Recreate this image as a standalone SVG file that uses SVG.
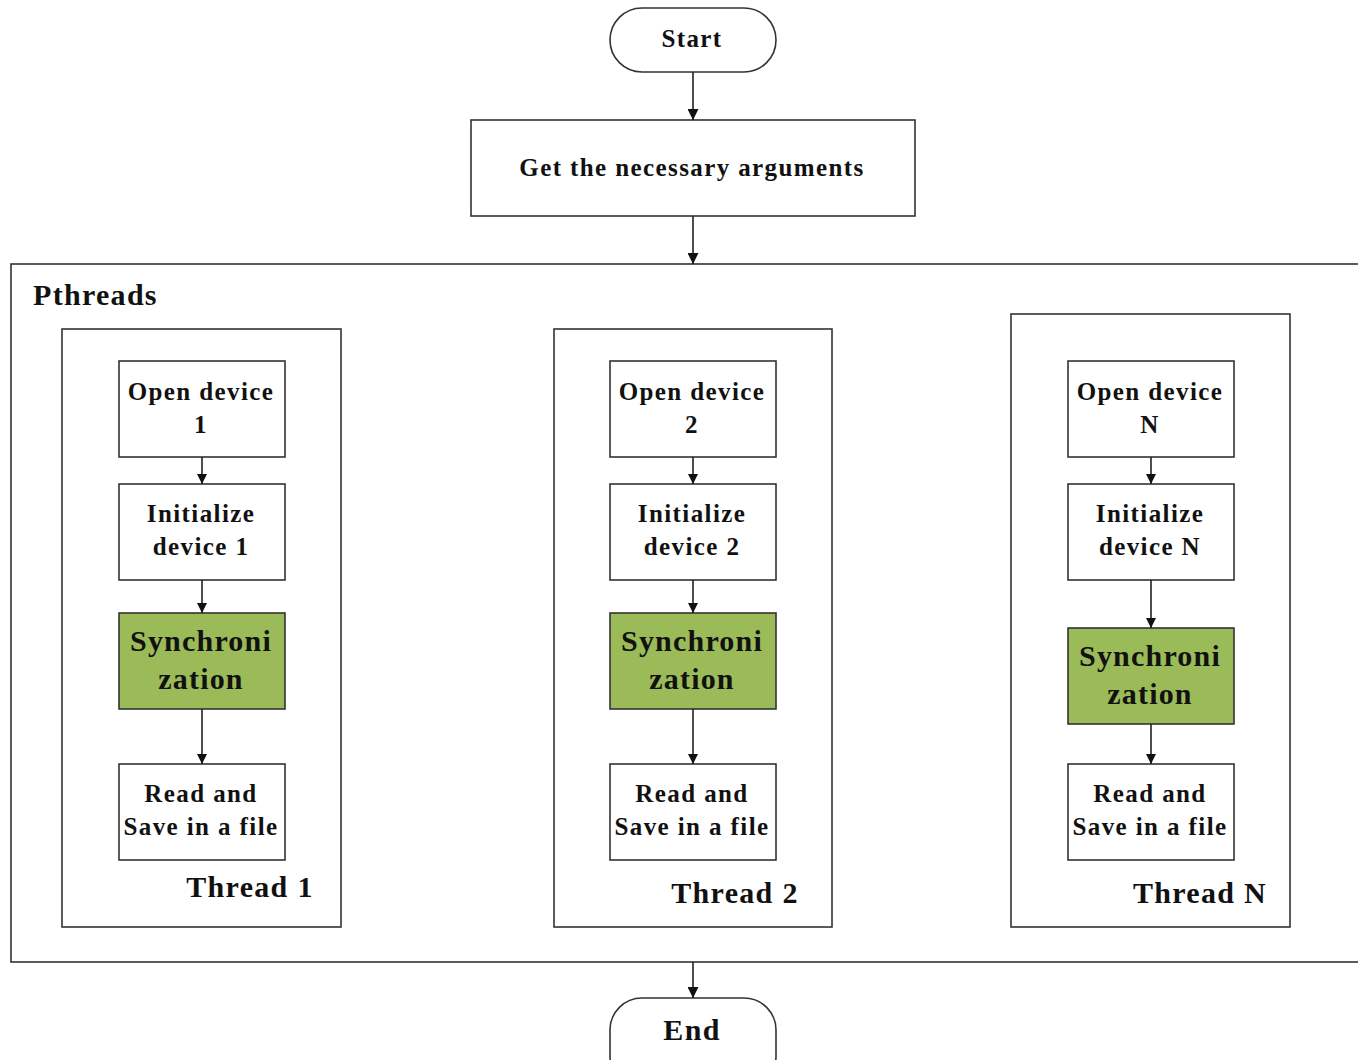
<svg xmlns="http://www.w3.org/2000/svg" width="1358" height="1060" viewBox="0 0 1358 1060">
<defs>
<style>
.b{fill:#fff;stroke:#333;stroke-width:1.6}
.g{fill:#9bbb59;stroke:#333;stroke-width:1.6}
.c{fill:none;stroke:#222;stroke-width:1.6}
text{font-family:"Liberation Serif","Times New Roman",serif;font-weight:bold;fill:#111;text-anchor:middle}
.t{font-size:25px;letter-spacing:1.4px}
.s{font-size:30px;letter-spacing:1.2px}
.h{font-size:30px;letter-spacing:1.3px}
</style>
<marker id="a" viewBox="0 0 10 10" refX="10" refY="5" markerWidth="10" markerHeight="10" markerUnits="userSpaceOnUse" orient="auto"><path d="M0,0L10,5L0,10z" fill="#111"/></marker>
<marker id="a2" viewBox="0 0 10 10" refX="10" refY="5" markerWidth="11" markerHeight="11" markerUnits="userSpaceOnUse" orient="auto"><path d="M0,0L10,5L0,10z" fill="#111"/></marker>
</defs>
<rect width="1358" height="1060" fill="#fff"/>
<g id="pthreads">
<rect x="11" y="264" width="1360" height="698" class="b"/>
<text x="33" y="305" class="h" style="text-anchor:start">Pthreads</text>
</g>
<g id="thread1"><rect x="62" y="329" width="279" height="598" class="b"/><text x="250" y="897" class="h">Thread 1</text></g>
<g id="thread2"><rect x="554" y="329" width="278" height="598" class="b"/><text x="735" y="903" class="h">Thread 2</text></g>
<g id="threadN"><rect x="1011" y="314" width="279" height="613" class="b"/><text x="1200" y="903" class="h">Thread N</text></g>
<g id="start"><rect x="610" y="8" width="166" height="64" rx="32" class="b"/><text x="692" y="47" class="t">Start</text></g>
<g id="args"><rect x="471" y="120" width="444" height="96" class="b"/><text x="692" y="176" class="t">Get the necessary arguments</text></g>
<g id="end"><rect x="610" y="998" width="166" height="90" rx="32" class="b"/><text x="692" y="1040" class="h">End</text></g>

<g id="open1"><rect x="119" y="361" width="166" height="96" class="b"/><text x="201" y="400" class="t">Open device</text><text x="201" y="433" class="t">1</text></g>
<g id="init1"><rect x="119" y="484" width="166" height="96" class="b"/><text x="201" y="522" class="t">Initialize</text><text x="201" y="555" class="t">device 1</text></g>
<g id="sync1"><rect x="119" y="613" width="166" height="96" class="g"/><text x="201" y="651" class="s">Synchroni</text><text x="201" y="689" class="s">zation</text></g>
<g id="read1"><rect x="119" y="764" width="166" height="96" class="b"/><text x="201" y="802" class="t">Read and</text><text x="201" y="835" class="t">Save in a file</text></g>

<g id="open2"><rect x="610" y="361" width="166" height="96" class="b"/><text x="692" y="400" class="t">Open device</text><text x="692" y="433" class="t">2</text></g>
<g id="init2"><rect x="610" y="484" width="166" height="96" class="b"/><text x="692" y="522" class="t">Initialize</text><text x="692" y="555" class="t">device 2</text></g>
<g id="sync2"><rect x="610" y="613" width="166" height="96" class="g"/><text x="692" y="651" class="s">Synchroni</text><text x="692" y="689" class="s">zation</text></g>
<g id="read2"><rect x="610" y="764" width="166" height="96" class="b"/><text x="692" y="802" class="t">Read and</text><text x="692" y="835" class="t">Save in a file</text></g>

<g id="openN"><rect x="1068" y="361" width="166" height="96" class="b"/><text x="1150" y="400" class="t">Open device</text><text x="1150" y="433" class="t">N</text></g>
<g id="initN"><rect x="1068" y="484" width="166" height="96" class="b"/><text x="1150" y="522" class="t">Initialize</text><text x="1150" y="555" class="t">device N</text></g>
<g id="syncN"><rect x="1068" y="628" width="166" height="96" class="g"/><text x="1150" y="666" class="s">Synchroni</text><text x="1150" y="704" class="s">zation</text></g>
<g id="readN"><rect x="1068" y="764" width="166" height="96" class="b"/><text x="1150" y="802" class="t">Read and</text><text x="1150" y="835" class="t">Save in a file</text></g>

<g id="connectors">
<line x1="693" y1="72" x2="693" y2="120" class="c" marker-end="url(#a2)"/>
<line x1="693" y1="216" x2="693" y2="264" class="c" marker-end="url(#a2)"/>
<line x1="693" y1="962" x2="693" y2="998" class="c" marker-end="url(#a2)"/>
<line x1="202" y1="457" x2="202" y2="484" class="c" marker-end="url(#a)"/>
<line x1="202" y1="580" x2="202" y2="613" class="c" marker-end="url(#a)"/>
<line x1="202" y1="709" x2="202" y2="764" class="c" marker-end="url(#a)"/>
<line x1="693" y1="457" x2="693" y2="484" class="c" marker-end="url(#a)"/>
<line x1="693" y1="580" x2="693" y2="613" class="c" marker-end="url(#a)"/>
<line x1="693" y1="709" x2="693" y2="764" class="c" marker-end="url(#a)"/>
<line x1="1151" y1="457" x2="1151" y2="484" class="c" marker-end="url(#a)"/>
<line x1="1151" y1="580" x2="1151" y2="628" class="c" marker-end="url(#a)"/>
<line x1="1151" y1="724" x2="1151" y2="764" class="c" marker-end="url(#a)"/>
</g>
</svg>
